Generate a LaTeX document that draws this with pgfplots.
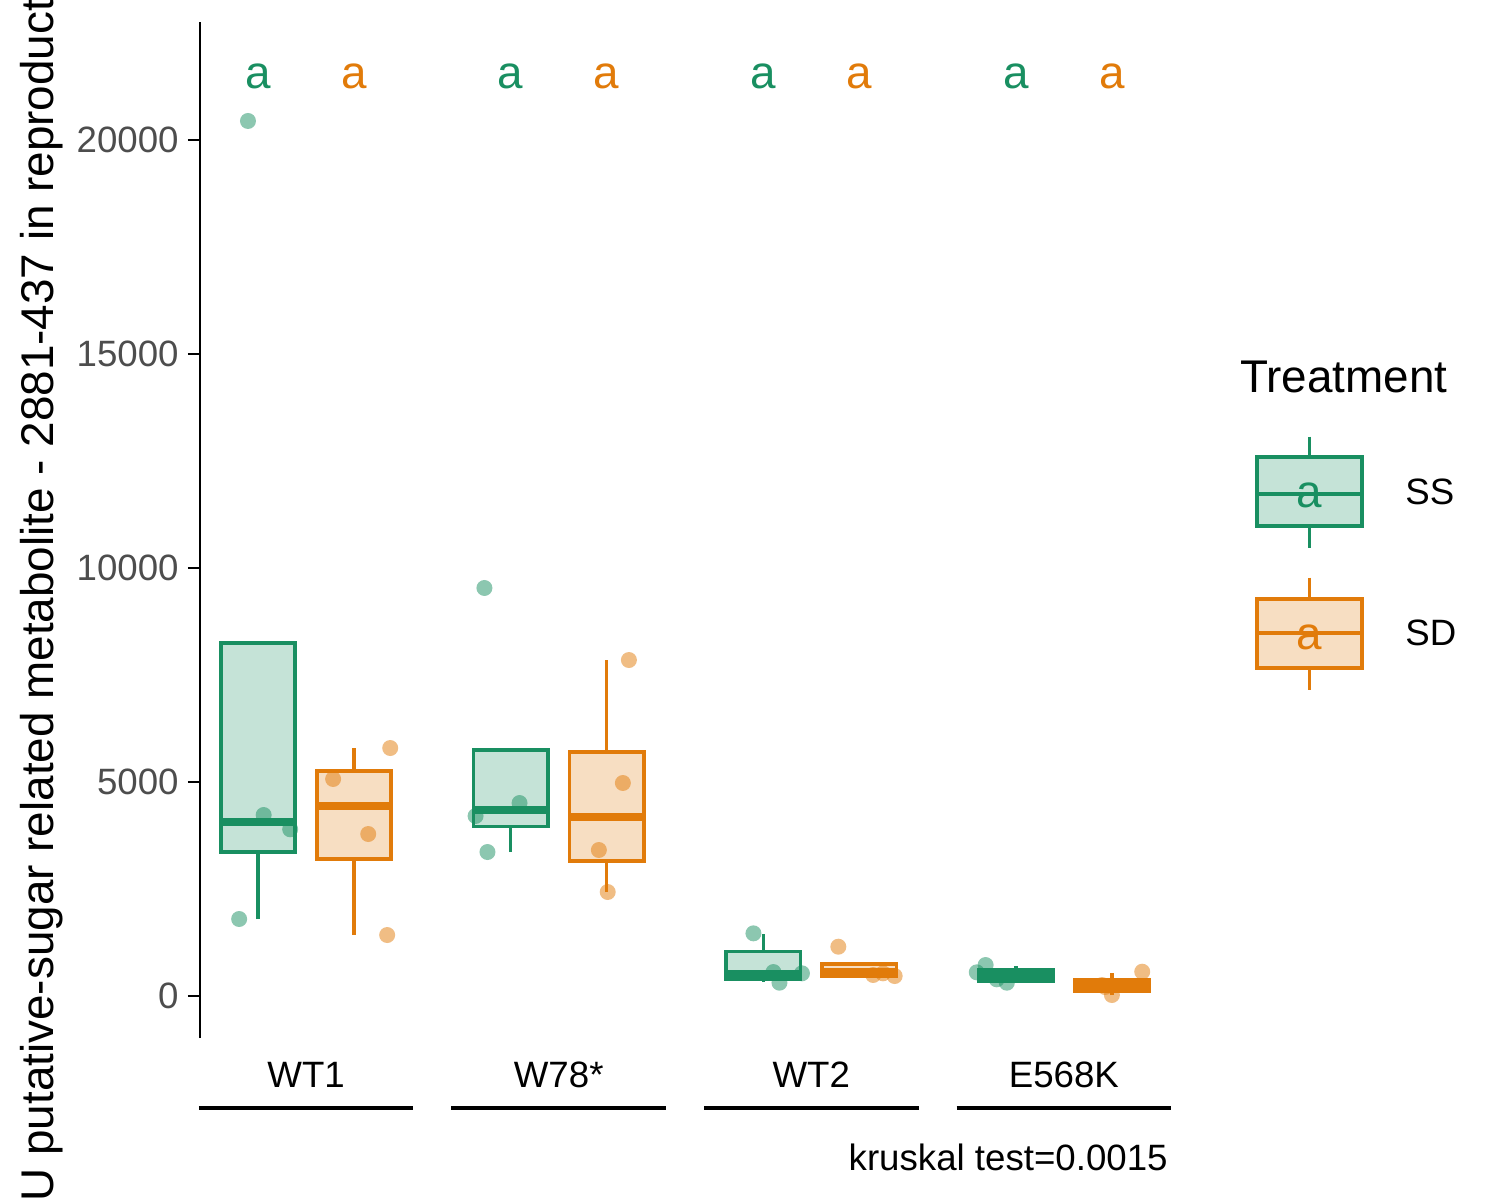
\documentclass[border=0pt]{standalone}
\usepackage{pgfplots}
\pgfplotsset{compat=1.18}
\usepackage{fontspec}
\setmainfont{Liberation Sans}
\definecolor{ssc}{RGB}{25,143,97}
\definecolor{sdc}{RGB}{225,123,10}
\definecolor{tickgray}{RGB}{77,77,77}
\newcommand{\fsm}{\fontsize{18.33bp}{21bp}\selectfont}
\newcommand{\fbg}{\fontsize{22.92bp}{26bp}\selectfont}
% box: #1 left, #2 right, #3 centre, #4 lower whisker, #5 Q1, #6 median, #7 Q3, #8 upper whisker, #9 colour
\newcommand{\bx}[9]{%
 \addplot[draw=#9, line width=1.7bp, mark=none] coordinates {(#3,#4) (#3,#5)};
 \addplot[draw=#9, line width=1.7bp, mark=none] coordinates {(#3,#7) (#3,#8)};
 \addplot[draw=#9, fill=#9, fill opacity=0.25, line width=1.8bp, line join=miter, mark=none] coordinates {(#1,#5) (#2,#5) (#2,#7) (#1,#7)} --cycle;
 \addplot[draw=#9, line width=3.6bp, mark=none] coordinates {(#1,#6) (#2,#6)};
}
\begin{document}
\begin{tikzpicture}
\begin{axis}[
  at={(0,0)}, anchor=south west,
  scale only axis, width=485bp, height=508bp,
  xmin=0.58, xmax=4.42, ymin=-981, ymax=22757,
  clip=false,
  separate axis lines,
  axis lines*=left,
  x axis line style={draw=none},
  y axis line style={line width=1.3bp, black, -},
  tick align=outside,
  major tick length=6bp,
  xtick={1,2,3,4},
  xticklabels={WT1,W78*,WT2,E568K},
  xtick style={draw=none},
  ytick={0,5000,10000,15000,20000},
  ytick style={line width=1.2bp, black},
  /pgf/number format/1000 sep={},
  /pgf/number format/assume math mode=true,
  scaled y ticks=false,
  yticklabel style={font=\fsm, text=tickgray, anchor=east, inner sep=0pt, xshift=-4.5bp},
  xticklabel style={font=\fsm, text=black, anchor=north, inner sep=0pt, yshift=-6bp},
]
% ---- SS boxes
\bx{0.663}{0.957}{0.81}{1799}{3364}{4065}{8248}{8248}{ssc}
\bx{1.663}{1.957}{1.81}{3364}{3956}{4346}{5748}{5748}{ssc}
\bx{2.663}{2.957}{2.81}{334}{400}{520}{1036}{1449}{ssc}
\bx{3.663}{3.957}{3.81}{330}{357}{490}{623}{701}{ssc}
% ---- SD boxes
\bx{1.043}{1.337}{1.19}{1425}{3201}{4439}{5257}{5794}{sdc}
\bx{2.043}{2.337}{2.19}{2430}{3154}{4182}{5701}{7850}{sdc}
\bx{3.043}{3.337}{3.19}{467}{470}{568}{745}{745}{sdc}
\bx{4.043}{4.337}{4.19}{23}{117}{255}{390}{530}{sdc}
% ---- jittered points
\addplot[only marks, mark=*, mark size=4bp, mark options={draw opacity=0, fill=ssc, fill opacity=0.5}] coordinates {
 (0.770,20444) (0.735,1799) (0.832,4229) (0.937,3895)
 (1.706,9533) (1.671,4206) (1.845,4509) (1.718,3364)
 (2.771,1464) (2.874,311) (2.963,530) (2.850,560)
 (3.655,553) (3.690,724) (3.734,390) (3.774,311)
};
\addplot[only marks, mark=*, mark size=4bp, mark options={draw opacity=0, fill=sdc, fill opacity=0.5}] coordinates {
 (1.333,5794) (1.107,5070) (1.246,3785) (1.321,1425)
 (2.278,7850) (2.254,4977) (2.159,3411) (2.194,2430)
 (3.107,1152) (3.245,491) (3.284,530) (3.330,467)
 (4.310,568) (4.151,257) (4.190,23) (4.163,210)
};
% ---- letters
\pgfplotsinvokeforeach{0.81,1.81,2.81,3.81}{\node[anchor=base, font=\fbg, text=ssc, inner sep=0pt] at (axis cs:#1,21200) {a};}
\pgfplotsinvokeforeach{1.19,2.19,3.19,4.19}{\node[anchor=base, font=\fbg, text=sdc, inner sep=0pt] at (axis cs:#1,21200) {a};}
% ---- brackets under categories
\draw[line width=2.2bp, black] (axis cs:0.5754,-2617) -- (axis cs:1.4246,-2617);
\draw[line width=2.2bp, black] (axis cs:1.5754,-2617) -- (axis cs:2.4246,-2617);
\draw[line width=2.2bp, black] (axis cs:2.5754,-2617) -- (axis cs:3.4246,-2617);
\draw[line width=2.2bp, black] (axis cs:3.5754,-2617) -- (axis cs:4.4246,-2617);
\end{axis}
% y label (cut off at both picture edges, as in the reference)
\node[rotate=90, anchor=base, font=\fbg, inner sep=0pt] at (-73bp,219bp) {\llap{A}U putative-sugar related metabolite - 2881-437 in reproduct\rlap{ive tissue}};
% test note
\node[anchor=base east, font=\fsm, inner sep=0pt] at (484bp,-66bp) {kruskal test=0.0015};
% legend
\node[anchor=base west, font=\fbg, inner sep=0pt] at (520bp,322.5bp) {Treatment};
\begin{scope}[line width=1.8bp]
\draw[ssc] (554.75bp,300.65bp) -- (554.75bp,290.5bp);
\draw[ssc] (554.75bp,256bp) -- (554.75bp,245bp);
\filldraw[draw=ssc, fill=ssc, fill opacity=0.25] (528.5bp,256bp) rectangle (581bp,290.5bp);
\node[anchor=base, font=\fbg, text=ssc, inner sep=0pt] at (554.75bp,265bp) {a};
\draw[ssc] (528.5bp,272bp) -- (581bp,272bp);
\draw[sdc] (554.75bp,230.15bp) -- (554.75bp,219.5bp);
\draw[sdc] (554.75bp,185bp) -- (554.75bp,174bp);
\filldraw[draw=sdc, fill=sdc, fill opacity=0.25] (528.5bp,185bp) rectangle (581bp,219.5bp);
\node[anchor=base, font=\fbg, text=sdc, inner sep=0pt] at (554.75bp,194bp) {a};
\draw[sdc] (528.5bp,202.35bp) -- (581bp,202.35bp);
\end{scope}
\node[anchor=west, font=\fsm, inner sep=0pt] at (602.5bp,273bp) {SS};
\node[anchor=west, font=\fsm, inner sep=0pt] at (602.5bp,202.5bp) {SD};
\pgfresetboundingbox
\path (-100bp,-81bp) rectangle (650bp,519bp);
\end{tikzpicture}
\end{document}
